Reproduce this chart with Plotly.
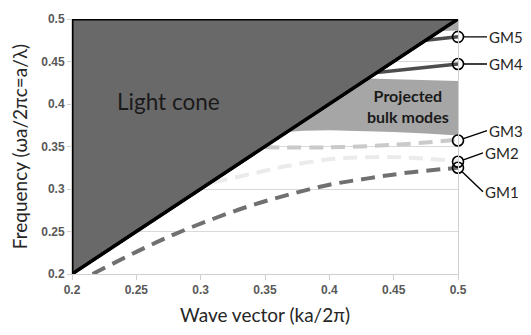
import plotly.graph_objects as go

# ---- data ----
light_x = [0.2, 0.5]
light_y = [0.2, 0.5]

band_x = [0.367, 0.38, 0.40, 0.42, 0.45, 0.475, 0.50, 0.50, 0.475, 0.45, 0.43, 0.367]
band_y = [0.367, 0.3685, 0.369, 0.3685, 0.367, 0.3652, 0.363, 0.427, 0.428, 0.429, 0.43, 0.367]

top_band_x = [0.486, 0.5, 0.5, 0.486]
top_band_y = [0.486, 0.5, 0.4866, 0.486]

gm1_x = [0.216, 0.25, 0.28, 0.31, 0.34, 0.37, 0.40, 0.43, 0.46, 0.5]
gm1_y = [0.2, 0.226, 0.247, 0.265, 0.281, 0.294, 0.305, 0.3125, 0.319, 0.325]

gm2_x = [0.31, 0.34, 0.367, 0.40, 0.43, 0.46, 0.5]
gm2_y = [0.308, 0.318, 0.327, 0.335, 0.3375, 0.337, 0.333]

gm3_x = [0.35, 0.40, 0.45, 0.5]
gm3_y = [0.349, 0.349, 0.352, 0.358]

gm4_x = [0.437, 0.5]
gm4_y = [0.437, 0.447]

gm5_x = [0.475, 0.5]
gm5_y = [0.475, 0.479]

gm_labels = ["GM1", "GM2", "GM3", "GM4", "GM5"]
gm_freq = [0.325, 0.332, 0.357, 0.447, 0.479]

x_ticks = [0.2, 0.25, 0.3, 0.35, 0.4, 0.45, 0.5]
y_ticks = [0.2, 0.25, 0.3, 0.35, 0.4, 0.45, 0.5]

FONT = "Lato"

fig = go.Figure()

# projected bulk modes
fig.add_trace(go.Scatter(x=band_x, y=band_y, fill="toself", fillcolor="#a6a6a6",
                         line=dict(width=0), mode="lines", hoverinfo="skip"))
fig.add_trace(go.Scatter(x=top_band_x, y=top_band_y, fill="toself", fillcolor="#a6a6a6",
                         line=dict(width=0), mode="lines", hoverinfo="skip"))

# dashed modes
fig.add_trace(go.Scatter(x=gm2_x, y=gm2_y, mode="lines",
                         line=dict(color="#ebebeb", width=4, dash="14px,8px", shape="spline")))
fig.add_trace(go.Scatter(x=gm3_x, y=gm3_y, mode="lines",
                         line=dict(color="#cacaca", width=4, dash="14px,8px", shape="spline")))
fig.add_trace(go.Scatter(x=gm1_x, y=gm1_y, mode="lines",
                         line=dict(color="#707070", width=4, dash="14px,8px", shape="spline")))

# solid modes GM4, GM5
fig.add_trace(go.Scatter(x=gm4_x, y=gm4_y, mode="lines", line=dict(color="#4d4d4d", width=3.5)))
fig.add_trace(go.Scatter(x=gm5_x, y=gm5_y, mode="lines", line=dict(color="#4d4d4d", width=3.5)))

# light cone
fig.add_trace(go.Scatter(x=[light_x[0], light_x[1], light_x[0], light_x[0]],
                         y=[light_y[0], light_y[1], light_y[1], light_y[0]],
                         fill="toself", fillcolor="#696969", mode="lines",
                         line=dict(color="black", width=3)))
fig.add_trace(go.Scatter(x=light_x, y=light_y, mode="lines",
                         line=dict(color="black", width=3.5)))

# GM points
fig.add_trace(go.Scatter(x=[0.5] * len(gm_freq), y=gm_freq, mode="markers", cliponaxis=False,
                         marker=dict(symbol="circle-open", size=11, color="black",
                                     line=dict(width=1.6, color="black"))))

annotations = [
    dict(x=0.2747, y=0.4026, xref="x", yref="y", text="Light cone", showarrow=False,
         font=dict(family=FONT, size=22.5, color="#1a1a1a")),
    dict(x=0.4609, y=0.398, xref="x", yref="y", text="Projected<br>bulk modes", showarrow=False,
         font=dict(family=FONT, size=16, color="#1a1a1a", weight="bold")),
]
offsets = {"GM1": (25, 24), "GM2": (25, -9), "GM3": (29, -10), "GM4": (29, 0), "GM5": (29, 0)}
for lab, fy in zip(gm_labels, gm_freq):
    ax, ay = offsets[lab]
    annotations.append(dict(x=0.5, y=fy, xref="x", yref="y", text=lab, showarrow=True,
                            ax=ax, ay=ay, xanchor="left", arrowhead=0, arrowwidth=1.4,
                            arrowcolor="black", standoff=5,
                            font=dict(family=FONT, size=15, color="#262626")))

fig.update_layout(
    width=531, height=335, margin=dict(l=72, r=73, t=15, b=52),
    paper_bgcolor="white", plot_bgcolor="white", showlegend=False,
    annotations=annotations,
    xaxis=dict(range=[0.2, 0.5], tickvals=x_ticks, ticktext=[f"{v:g}" for v in x_ticks],
               showgrid=False, zeroline=False, showline=True, linecolor="#d0d0d0", linewidth=1,
               ticks="outside", ticklen=5, tickcolor="#d0d0d0",
               tickfont=dict(family="Liberation Sans", size=12, color="#595959", weight="bold"),
               title=dict(text="Wave vector (ka/2π)", standoff=12,
                          font=dict(family=FONT, size=19, color="#262626"))),
    yaxis=dict(range=[0.2, 0.5], tickvals=y_ticks, ticktext=[f"{v:g}" for v in y_ticks],
               showgrid=True, gridcolor="#d9d9d9", gridwidth=1, zeroline=False,
               showline=True, mirror=True, linecolor="#d0d0d0", linewidth=1,
               ticks="outside", ticklen=4, tickcolor="#d0d0d0",
               tickfont=dict(family="Liberation Sans", size=12, color="#595959", weight="bold"),
               title=dict(text="Frequency (ωa/2πc=a/λ)", standoff=8,
                          font=dict(family=FONT, size=19, color="#262626"))),
)

fig.write_html("out.html")
